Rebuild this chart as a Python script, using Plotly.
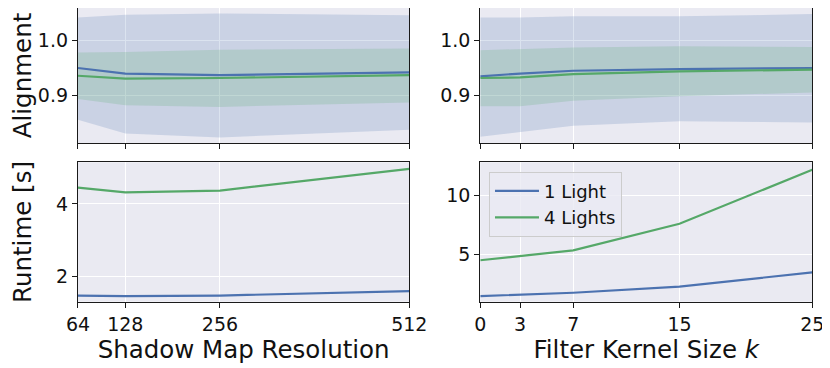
import plotly.graph_objects as go
from plotly.subplots import make_subplots

# shadow map resolution sweep
res = [64, 128, 256, 512]
res_align_1 = [0.950, 0.940, 0.937, 0.942]
res_align_1_lo = [0.857, 0.832, 0.825, 0.839]
res_align_1_hi = [1.041, 1.046, 1.048, 1.045]
res_align_4 = [0.936, 0.931, 0.932, 0.937]
res_align_4_lo = [0.894, 0.883, 0.880, 0.888]
res_align_4_hi = [0.978, 0.979, 0.983, 0.985]
res_time_1 = [1.47, 1.455, 1.47, 1.59]
res_time_4 = [4.45, 4.32, 4.37, 4.97]

# filter kernel size sweep
ks = [0, 3, 7, 15, 25]
k_align_1 = [0.935, 0.940, 0.945, 0.948, 0.950]
k_align_1_lo = [0.826, 0.835, 0.846, 0.854, 0.852]
k_align_1_hi = [1.041, 1.041, 1.043, 1.043, 1.047]
k_align_4 = [0.932, 0.933, 0.939, 0.944, 0.947]
k_align_4_lo = [0.881, 0.881, 0.891, 0.899, 0.906]
k_align_4_hi = [0.982, 0.984, 0.987, 0.989, 0.988]
k_time_1 = [1.44, 1.58, 1.72, 2.23, 3.45]
k_time_4 = [4.47, 4.83, 5.31, 7.56, 12.14]

BLUE = "#4C72B0"
GREEN = "#55A868"
BLUE_BAND = "rgba(76,114,176,0.2)"
GREEN_BAND = "rgba(85,168,104,0.2)"
FONT = "DejaVu Sans"
INK = "#111111"

fig = make_subplots(rows=2, cols=2)


def add_band(x, lo, hi, color, row, col):
    fig.add_trace(go.Scatter(x=x, y=lo, mode="lines", line=dict(width=0),
                             showlegend=False, hoverinfo="skip"), row=row, col=col)
    fig.add_trace(go.Scatter(x=x, y=hi, mode="lines", line=dict(width=0),
                             fill="tonexty", fillcolor=color,
                             showlegend=False, hoverinfo="skip"), row=row, col=col)


def add_line(x, y, color, name, row, col, legend=False):
    fig.add_trace(go.Scatter(x=x, y=y, mode="lines", name=name,
                             line=dict(color=color, width=2.2),
                             showlegend=legend), row=row, col=col)


add_band(res, res_align_1_lo, res_align_1_hi, BLUE_BAND, 1, 1)
add_band(res, res_align_4_lo, res_align_4_hi, GREEN_BAND, 1, 1)
add_line(res, res_align_1, BLUE, "1 Light", 1, 1)
add_line(res, res_align_4, GREEN, "4 Lights", 1, 1)

add_band(ks, k_align_1_lo, k_align_1_hi, BLUE_BAND, 1, 2)
add_band(ks, k_align_4_lo, k_align_4_hi, GREEN_BAND, 1, 2)
add_line(ks, k_align_1, BLUE, "1 Light", 1, 2)
add_line(ks, k_align_4, GREEN, "4 Lights", 1, 2)

add_line(res, res_time_1, BLUE, "1 Light", 2, 1)
add_line(res, res_time_4, GREEN, "4 Lights", 2, 1)

add_line(ks, k_time_1, BLUE, "1 Light", 2, 2, legend=True)
add_line(ks, k_time_4, GREEN, "4 Lights", 2, 2, legend=True)

axis_style = dict(showline=True, linecolor="#1a1a1a", linewidth=1.2, mirror=True,
                  ticks="outside", ticklen=5, tickcolor="#1a1a1a", automargin=False,
                  showgrid=True, gridcolor="white", gridwidth=1, zeroline=False,
                  tickfont=dict(family=FONT, size=19, color=INK))
fig.update_xaxes(**axis_style)
fig.update_yaxes(**axis_style)

# page has an 8px body margin, so domains are shifted up/left by 8px
xl = [0.0843, 0.4835]
xr = [0.5690, 0.9690]
yt = [0.6332, 1.0]
yb = [0.2019, 0.5807]
title_font = dict(family=FONT, size=24.5, color=INK)

fig.update_xaxes(domain=xl, range=[64, 512], tickvals=res, showticklabels=False, row=1, col=1)
fig.update_xaxes(domain=xr, range=[0, 25], tickvals=ks, showticklabels=False, row=1, col=2)
fig.update_xaxes(domain=xl, range=[64, 512], tickvals=res, row=2, col=1,
                 title=dict(text="Shadow Map Resolution", font=title_font, standoff=5))
fig.update_xaxes(domain=xr, range=[0, 25], tickvals=ks, row=2, col=2,
                 title=dict(text="Filter Kernel Size <i>k</i>", font=title_font, standoff=5))

fig.update_yaxes(domain=yt, range=[0.815, 1.058], tickvals=[0.9, 1.0], ticktext=["0.9", "1.0"],
                 row=1, col=1, title=dict(text="Alignment", font=title_font, standoff=15))
fig.update_yaxes(domain=yt, range=[0.815, 1.058], tickvals=[0.9, 1.0], ticktext=["0.9", "1.0"],
                 row=1, col=2)
fig.update_yaxes(domain=yb, range=[1.3, 5.15], tickvals=[2, 4], row=2, col=1,
                 title=dict(text="Runtime [s]", font=title_font, standoff=31))
fig.update_yaxes(domain=yb, range=[0.96, 12.77], tickvals=[5, 10], row=2, col=2)

fig.update_layout(
    width=830, height=368,
    margin=dict(l=0, r=0, t=0, b=0),
    paper_bgcolor="white",
    plot_bgcolor="#EAEAF2",
    font=dict(family=FONT, color=INK),
    legend=dict(x=0.5795, y=0.5552, xanchor="left", yanchor="top", traceorder="normal",
                itemwidth=44, tracegroupgap=0,
                bgcolor="rgba(234,234,242,0.8)", bordercolor="#CCCCCC", borderwidth=1,
                font=dict(family=FONT, size=18, color=INK)),
)

fig.write_html("out.html")
